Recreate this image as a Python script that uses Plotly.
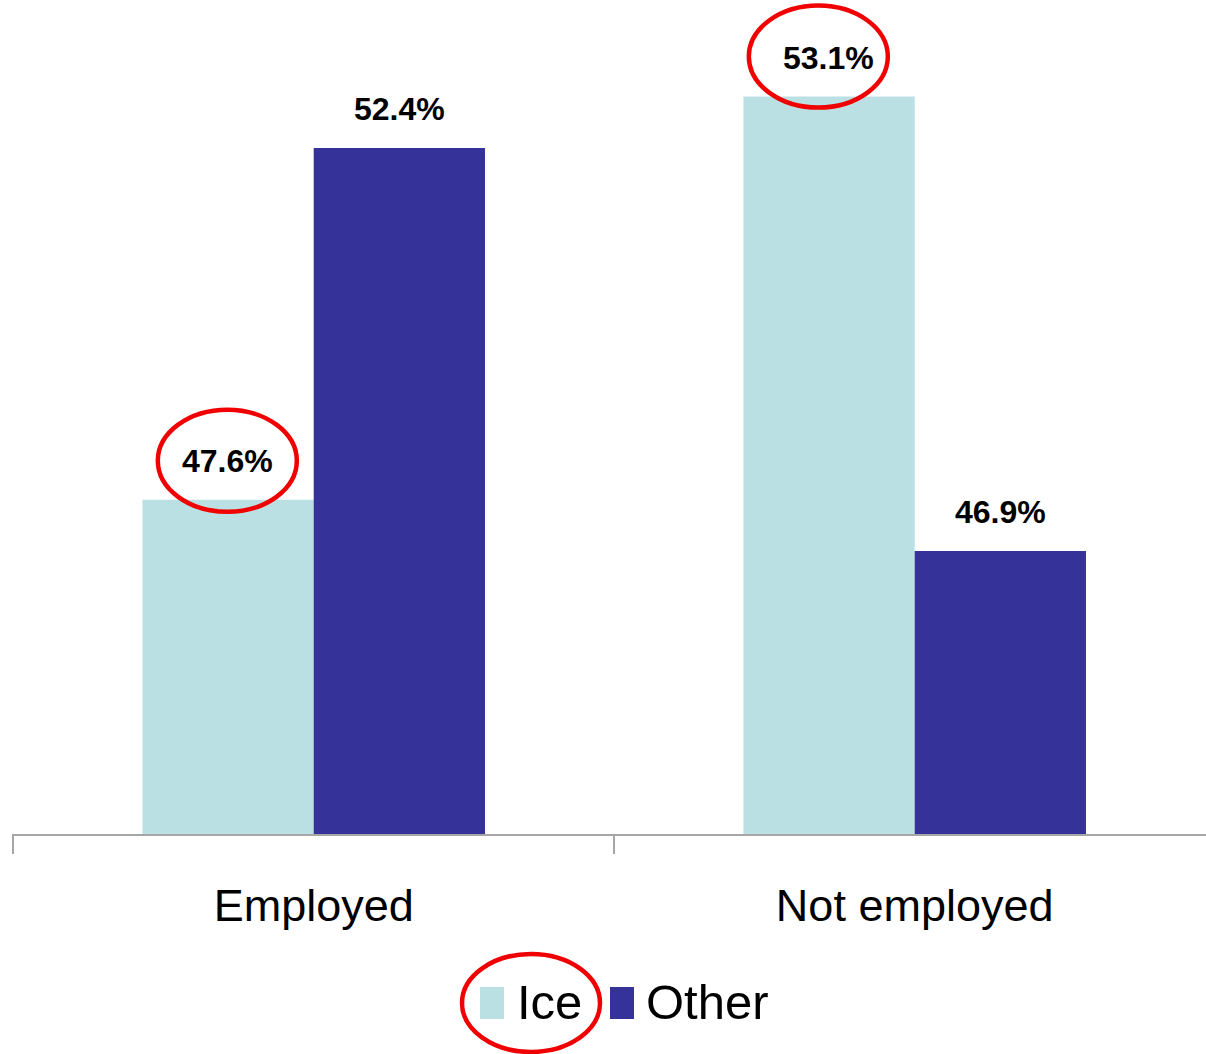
import plotly.graph_objects as go

# Share of respondents by employment status
categories = ["Employed", "Not employed"]
ice_values = [47.6, 53.1]
other_values = [52.4, 46.9]
series_names = ["Ice", "Other"]

ICE_COLOR = "#BBE0E3"
OTHER_COLOR = "#353399"
FONT = "Liberation Sans Narrow, Arial Narrow, Liberation Sans, Arial, sans-serif"

W, H = 1206, 1054
M_L, M_R, M_T, M_B = 12, 0, 0, 220
plot_w = W - M_L - M_R
plot_h = H - M_T - M_B

Y_MIN = 43.04
PX_PER_UNIT = 73.3
Y_MAX = Y_MIN + plot_h / PX_PER_UNIT

CAT_PX = 601  # pixel width of one category slot
X_MIN = -0.502
X_MAX = X_MIN + plot_w / CAT_PX
BAR_OFF = 0.1429  # half of one bar width, in category units

fig = go.Figure()
fig.add_trace(go.Bar(name=series_names[0], x=categories, y=ice_values,
                     marker=dict(color=ICE_COLOR, line=dict(width=0))))
fig.add_trace(go.Bar(name=series_names[1], x=categories, y=other_values,
                     marker=dict(color=OTHER_COLOR, line=dict(width=0))))

# Value labels above each bar
annotations = []
for i, (a, b) in enumerate(zip(ice_values, other_values)):
    for off, v in ((-BAR_OFF, a), (BAR_OFF, b)):
        annotations.append(dict(
            x=i + off, y=v, xref="x", yref="y",
            text=f"<b>{v:.1f}%</b>", showarrow=False,
            yanchor="bottom", yshift=19,
            font=dict(family=FONT, size=32, color="black"),
        ))

def px_x(p):
    return (p - M_L) / plot_w

def px_y(p):
    return (M_T + plot_h - p) / plot_h

# Legend drawn as swatches + labels
shapes = []
legend_items = [(series_names[0], ICE_COLOR, 480, 517), (series_names[1], OTHER_COLOR, 610, 646)]
for name, color, sx, tx in legend_items:
    shapes.append(dict(type="rect", xref="paper", yref="paper",
                       x0=px_x(sx), x1=px_x(sx + 24), y0=px_y(1019), y1=px_y(987),
                       fillcolor=color, line=dict(width=0)))
    annotations.append(dict(x=px_x(tx - 2), y=px_y(1002), xref="paper", yref="paper",
                            text=name, showarrow=False, xanchor="left", yanchor="middle",
                            font=dict(family=FONT, size=49, color="black")))

# Red highlight ellipses
red = dict(color="#F00000", width=4.5)
shapes.append(dict(type="circle", xref="x", yref="y", xsizemode="pixel", ysizemode="pixel",
                   xanchor=0 - BAR_OFF, yanchor=ice_values[0],
                   x0=-70, x1=69, y0=-12, y1=90, line=red))
shapes.append(dict(type="circle", xref="x", yref="y", xsizemode="pixel", ysizemode="pixel",
                   xanchor=1 - BAR_OFF, yanchor=ice_values[1],
                   x0=-80, x1=59, y0=-11, y1=91, line=red))
shapes.append(dict(type="circle", xref="paper", yref="paper",
                   x0=px_x(462), x1=px_x(600), y0=px_y(1052), y1=px_y(954), line=red))

fig.update_layout(
    width=W, height=H,
    margin=dict(l=M_L, r=M_R, t=M_T, b=M_B, pad=0),
    paper_bgcolor="white", plot_bgcolor="white",
    barmode="group", bargap=0.43, bargroupgap=0,
    showlegend=False,
    font=dict(family=FONT, color="black"),
    xaxis=dict(type="category", range=[X_MIN, X_MAX], tickson="boundaries",
               ticks="outside", ticklen=18, tickwidth=1.5, tickcolor="#A6A6A6",
               showline=True, linecolor="#A6A6A6", linewidth=1.5,
               showgrid=False, zeroline=False, ticklabelstandoff=31,
               tickfont=dict(family=FONT, size=45, color="black")),
    yaxis=dict(range=[Y_MIN, Y_MAX], visible=False, showgrid=False, zeroline=False),
    annotations=annotations, shapes=shapes,
)

fig.write_html("out.html")
